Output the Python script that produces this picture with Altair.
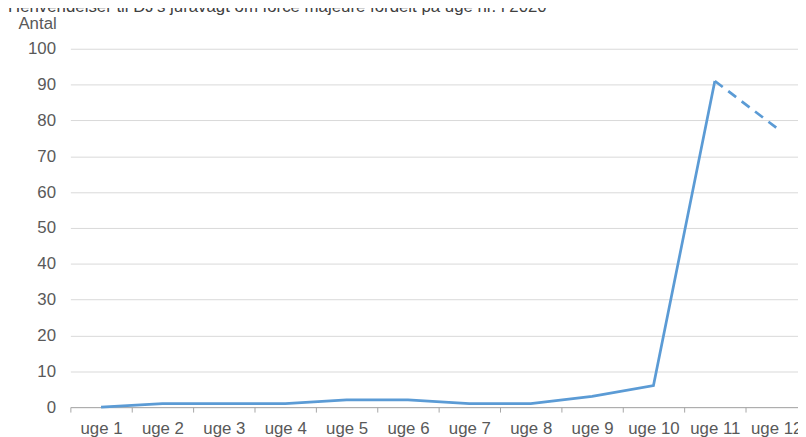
import altair as alt
import pandas as pd

title_text = "Henvendelser til DJ's juravagt om force majeure fordelt på uge nr. i 2020"
weeks = ["uge 1", "uge 2", "uge 3", "uge 4", "uge 5", "uge 6",
         "uge 7", "uge 8", "uge 9", "uge 10", "uge 11", "uge 12"]
values = [0, 1, 1, 1, 2, 2, 1, 1, 3, 6, 91, 78]
y_ticks = [0, 10, 20, 30, 40, 50, 60, 70, 80, 90, 100]

solid = pd.DataFrame({"uge": weeks[:11], "antal": values[:11]})
dashed = pd.DataFrame({"uge": weeks[10:], "antal": values[10:]})

FONT = "Liberation Sans"
BLUE = "#5B9BD5"
LABEL = "#595959"

x_enc = alt.X(
    "uge:N", sort=weeks, bandPosition=0.5,
    scale=alt.Scale(type="band", domain=weeks, range=[0, 744],
                    paddingInner=0, paddingOuter=0),
    axis=alt.Axis(title=None, labelAngle=0, tickBand="extent", grid=False,
                  domainColor="#a6a6a6", tickColor="#a6a6a6", tickSize=5,
                  labelFontSize=17, labelColor=LABEL, labelFont=FONT,
                  labelPadding=9),
)
y_enc = alt.Y(
    "antal:Q",
    scale=alt.Scale(domain=[0, 100], nice=False),
    axis=alt.Axis(values=y_ticks, title="Antal", titleAngle=0, titleAlign="left",
                  titleBaseline="alphabetic", titleX=-53, titleY=-20,
                  titleFontSize=17, titleFont=FONT, titleColor=LABEL,
                  titleFontWeight="normal",
                  domain=False, ticks=False, labelPadding=15,
                  labelFontSize=17, labelColor=LABEL, labelFont=FONT,
                  gridColor="#d9d9d9", gridWidth=1),
)

line_solid = alt.Chart(solid).mark_line(color=BLUE, strokeWidth=2.75).encode(x=x_enc, y=y_enc)
line_dash = alt.Chart(dashed).mark_line(color=BLUE, strokeWidth=2.75,
                                        strokeDash=[10, 7]).encode(x=x_enc, y=y_enc)

title = alt.Chart(pd.DataFrame({"t": [title_text]})).mark_text(
    align="left", baseline="alphabetic", fontSize=17, font=FONT, color="#404040"
).encode(x=alt.value(-63), y=alt.value(-37), text="t:N")

chart = alt.layer(line_solid, line_dash, title).properties(
    width=735, height=362,
    autosize=alt.AutoSizeParams(type="none"),
    padding={"left": 63, "top": 39, "right": 0, "bottom": 28},
).configure_view(stroke=None)

chart.save("out.html", embed_options={"renderer": "svg", "actions": False})
